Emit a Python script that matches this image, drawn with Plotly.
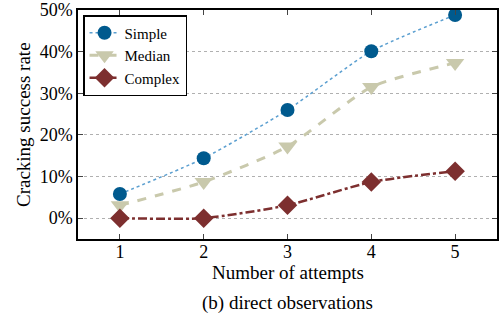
import plotly.graph_objects as go

attempts = [1, 2, 3, 4, 5]
simple = [5.8, 14.4, 26.0, 40.1, 48.8]
median = [3.1, 8.7, 17.2, 31.5, 37.3]
complex_ = [0.0, 0.0, 3.1, 8.7, 11.3]
y_ticks = [0, 10, 20, 30, 40, 50]
y_labels = ["0%", "10%", "20%", "30%", "40%", "50%"]

FONT = "Liberation Serif, Times New Roman, serif"

fig = go.Figure()
fig.add_trace(go.Scatter(x=attempts, y=simple, name="Simple", mode="lines+markers",
                         line=dict(color="#5b9fd0", dash="dot", width=1.5, shape="spline", smoothing=0.6),
                         marker=dict(symbol="circle", size=14, color="#005a8e")))
fig.add_trace(go.Scatter(x=attempts, y=median, name="Median", mode="lines+markers",
                         line=dict(color="#c9c9ac", dash="dash", width=3, shape="spline", smoothing=0.6),
                         marker=dict(symbol="triangle-down", size=16, color="#c9c9ac")))
fig.add_trace(go.Scatter(x=attempts, y=complex_, name="Complex", mode="lines+markers",
                         line=dict(color="#7d2f2f", dash="dashdot", width=2.5, shape="spline", smoothing=0.6),
                         marker=dict(symbol="diamond", size=15, color="#7d2f2f")))

fig.update_layout(
    width=503, height=316,
    margin=dict(l=78, r=6, t=10, b=77),
    plot_bgcolor="white", paper_bgcolor="white",
    font=dict(family=FONT, size=18, color="black"),
    showlegend=True,
    legend=dict(x=0.012, y=0.978, xanchor="left", yanchor="top",
                bgcolor="white", bordercolor="black", borderwidth=1.5,
                font=dict(family=FONT, size=15), itemwidth=30,
                tracegroupgap=0),
    xaxis=dict(range=[0.5, 5.5], tickvals=attempts, ticks="inside", ticklen=5,
               mirror="ticks", showline=True, linecolor="black", linewidth=1.5,
               showgrid=False, zeroline=False, automargin=False,
               ticklabelstandoff=-4, tickfont=dict(size=18)),
    yaxis=dict(range=[-5, 50], tickvals=y_ticks, ticktext=y_labels, ticks="inside", ticklen=5,
               mirror="ticks", showline=True, linecolor="black", linewidth=1.5,
               showgrid=True, gridcolor="#b0b0b0", griddash="dot", gridwidth=1,
               zeroline=False, automargin=False,
               tickfont=dict(size=18)),
)
fig.add_annotation(text="Number of attempts", xref="paper", yref="paper",
                   x=0.5, y=-0.148, xanchor="center", yanchor="middle", showarrow=False,
                   font=dict(family=FONT, size=19))
fig.add_annotation(text="Cracking success rate", xref="paper", yref="paper",
                   x=-0.13, y=0.5, xanchor="center", yanchor="middle", showarrow=False,
                   textangle=-90, font=dict(family=FONT, size=19))
fig.add_annotation(text="(b) direct observations", xref="paper", yref="paper",
                   x=0.5, y=-0.278, xanchor="center", yanchor="middle", showarrow=False,
                   font=dict(family=FONT, size=19))
fig.write_html("out.html", config={"displayModeBar": False},
               post_script="document.body.style.margin='0px';")
